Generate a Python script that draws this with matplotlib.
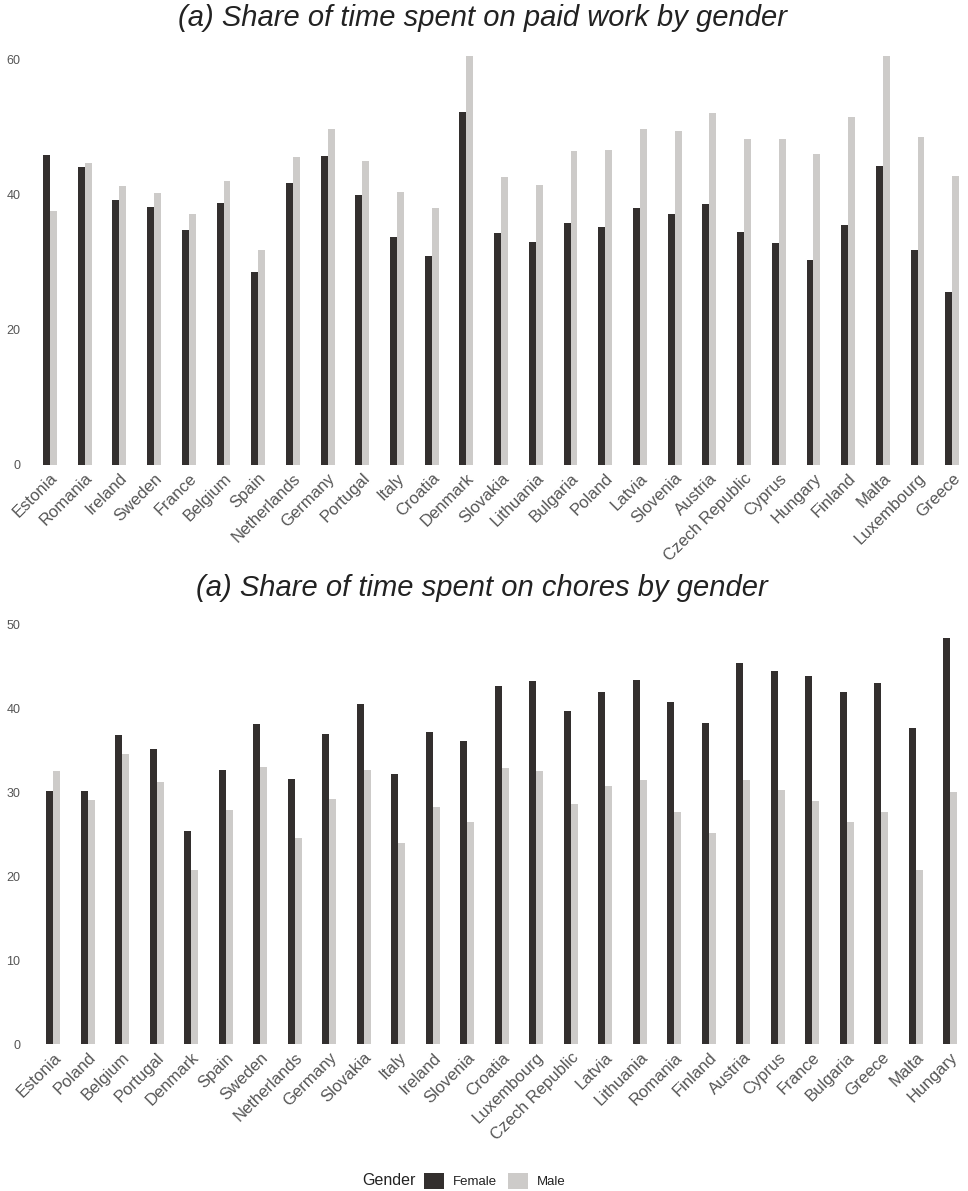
import numpy as np
import matplotlib
matplotlib.use("Agg")
import matplotlib.pyplot as plt
from matplotlib.patches import Patch

plt.rcParams['font.family'] = ['Liberation Sans', 'DejaVu Sans']

# paid work, share of time (%)
work_countries = ['Estonia', 'Romania', 'Ireland', 'Sweden', 'France', 'Belgium', 'Spain',
                  'Netherlands', 'Germany', 'Portugal', 'Italy', 'Croatia', 'Denmark',
                  'Slovakia', 'Lithuania', 'Bulgaria', 'Poland', 'Latvia', 'Slovenia',
                  'Austria', 'Czech Republic', 'Cyprus', 'Hungary', 'Finland', 'Malta',
                  'Luxembourg', 'Greece']
work_female = [45.9, 44.1, 39.2, 38.2, 34.8, 38.8, 28.5, 41.7, 45.8, 40.0, 33.7, 31.0, 52.3,
               34.3, 33.0, 35.9, 35.3, 38.0, 37.1, 38.6, 34.5, 32.8, 30.4, 35.6, 44.3, 31.9, 25.6]
work_male = [37.6, 44.7, 41.3, 40.2, 37.2, 42.0, 31.8, 45.6, 49.8, 45.0, 40.4, 38.1, 60.5,
             42.6, 41.4, 46.5, 46.7, 49.7, 49.5, 52.1, 48.2, 48.2, 46.1, 51.5, 60.6, 48.6, 42.8]

# household chores, share of time (%)
chore_countries = ['Estonia', 'Poland', 'Belgium', 'Portugal', 'Denmark', 'Spain', 'Sweden',
                   'Netherlands', 'Germany', 'Slovakia', 'Italy', 'Ireland', 'Slovenia',
                   'Croatia', 'Luxembourg', 'Czech Republic', 'Latvia', 'Lithuania', 'Romania',
                   'Finland', 'Austria', 'Cyprus', 'France', 'Bulgaria', 'Greece', 'Malta',
                   'Hungary']
chore_female = [30.2, 30.1, 36.8, 35.1, 25.4, 32.7, 38.1, 31.6, 36.9, 40.5, 32.2, 37.2, 36.1,
                42.7, 43.2, 39.7, 41.9, 43.4, 40.7, 38.3, 45.4, 44.4, 43.8, 41.9, 43.0, 37.6, 48.4]
chore_male = [32.5, 29.1, 34.6, 31.2, 20.7, 27.9, 33.0, 24.5, 29.2, 32.7, 24.0, 28.3, 26.4,
              32.9, 32.5, 28.6, 30.7, 31.4, 27.6, 25.1, 31.5, 30.3, 29.0, 26.5, 27.6, 20.7, 30.0]

FEMALE = '#332f2e'
MALE = '#cdcbc9'
LABEL = '#555555'

fig = plt.figure(figsize=(9.68, 11.91), dpi=100)


def draw_panel(rect, countries, female, male, xlim, ylim, yticks):
    ax = fig.add_axes(rect)
    x = np.arange(len(countries))
    w = 0.2
    ax.bar(x - w / 2, female, width=w, color=FEMALE, linewidth=0)
    ax.bar(x + w / 2, male, width=w, color=MALE, linewidth=0)
    ax.set_xlim(*xlim)
    ax.set_ylim(*ylim)
    ax.set_yticks(yticks)
    ax.set_xticks(x)
    ax.set_xticklabels(countries, rotation=45, ha='right', va='top',
                       rotation_mode='anchor', fontsize=12, color=LABEL)
    ax.tick_params(axis='y', length=0, labelsize=9, labelcolor=LABEL, pad=7)
    ax.tick_params(axis='x', length=0, pad=4)
    for s in ax.spines.values():
        s.set_visible(False)
    return ax


draw_panel([0.031, 0.6096, 0.966, 0.3459], work_countries, work_female, work_male,
           (-0.576, 26.37), (0, 61), [0, 20, 40, 60])
draw_panel([0.031, 0.1232, 0.966, 0.3562], chore_countries, chore_female, chore_male,
           (-0.675, 26.43), (0, 50.5), [0, 10, 20, 30, 40, 50])

fig.text(0.498, 0.985, '(a) Share of time spent on paid work by gender', ha='center',
         va='center', fontsize=21, style='italic', color='#222222')
fig.text(0.498, 0.5063, '(a) Share of time spent on chores by gender', ha='center',
         va='center', fontsize=21, style='italic', color='#222222')

handles = [Patch(facecolor=FEMALE, label='Female'), Patch(facecolor=MALE, label='Male')]
fig.text(362 / 968, 0.0084, 'Gender', ha='left', va='center', fontsize=11.5, color='#222222')
fig.legend(handles=handles, loc='center', bbox_to_anchor=(495 / 968, 0.0084), ncol=2,
           frameon=False, fontsize=9.5, handlelength=1.5, handleheight=1.5,
           handletextpad=0.7, columnspacing=0.8, borderpad=0, labelcolor='#222222')

fig.savefig('out.png', dpi=100)
